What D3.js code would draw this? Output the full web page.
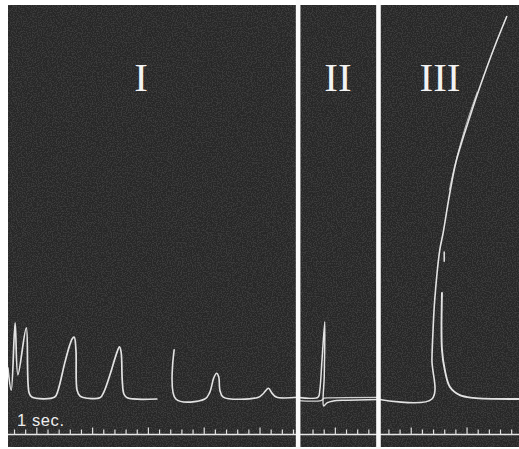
<!DOCTYPE html>
<html>
<head>
<meta charset="utf-8">
<script src="https://cdnjs.cloudflare.com/ajax/libs/d3/7.8.5/d3.min.js"></script>
<style>
  html, body { margin: 0; padding: 0; background: #fff; }
  svg { display: block; }
</style>
</head>
<body>
<div id="chart"></div>
<script>
// record time in seconds, amplitude in arbitrary units (0 = resting baseline)
var panelNames = ["I", "II", "III"];
var cutTimes = [5.09, 6.53];          // where the record was cut between panels
var tickStarts = [0, 5.35, 6.71];     // first time-marker tick in each panel
var tickStep = 0.2;                   // five marks per second

// panel I, first stretch of trace
var traceI_a = [[-0.11, 8.1], [-0.05, 2.3], [0.02, 19.8], [0.07, 6.3], [0.22, 18.5],
  [0.27, 1.6], [0.32, 0.5], [0.73, 0.5], [0.79, 2.3], [0.91, 9.4], [1.00, 14.1],
  [1.05, 15.8], [1.08, 16.1], [1.11, 12.8], [1.13, 2.3], [1.18, 0.8], [1.24, 0.4],
  [1.54, 0.3], [1.61, 1.8], [1.72, 6.3], [1.83, 11.5], [1.89, 13.6], [1.92, 12.2],
  [1.94, 4.9], [1.97, 1.3], [2.03, 0.3], [2.56, 0]];
// panel I, second stretch (after the gap)
var traceI_b = [[2.87, 12.8], [2.90, 0], [3.42, 0], [3.51, 1.8], [3.58, 5.5],
  [3.63, 6.7], [3.67, 5.7], [3.69, 2.3], [3.75, 0.5], [4.37, 0.4], [4.46, 1.3],
  [4.56, 2.8], [4.62, 1.6], [4.70, 0.5], [5.12, 0.5]];
// panel II, two superposed sweeps
var traceII_a = [[5.05, 0.5], [5.45, 0.5], [5.48, 2.3], [5.52, 10.2], [5.57, 20.1],
  [5.56, 6.0], [5.55, -1.8], [5.61, -1.0], [5.72, -0.5], [5.93, -0.3], [6.55, -0.1]];
var traceII_b = [[5.05, -0.4], [5.50, -0.4], [5.56, 0.2], [5.66, 0.3], [6.55, 0.4]];
// panel III, rise and decay
var traceIII_rise = [[6.50, 0], [7.49, 0], [7.49, 10.2], [7.51, 18.0], [7.54, 25.8],
  [7.63, 38.8], [7.69, 43.2], [7.81, 53.6], [7.93, 62.2], [8.17, 73.5], [8.35, 81.3],
  [8.59, 90.9], [8.83, 99.6]];
var traceIII_double = [[7.80, 54.4], [7.90, 60.9], [8.10, 71.4], [8.30, 79.9]];
var traceIII_decay = [[7.67, 27.6], [7.67, 12.8], [7.72, 7.6], [7.81, 3.2],
  [7.99, 1.0], [8.23, 0.3], [9.10, 0]];
var traceIII_dash = [[7.71, 38.3], [7.71, 35.9]];

function draw_record(id) {
    "use strict";
    var W = 519, H = 449;
    var left = 8, top = 5, bottom = 447;
    var timeLineY = 434.5;

    var svg = d3.select(id).append("svg")
        .attr("width", W)
        .attr("height", H);

    var x = d3.scaleLinear().domain([0, 9]).range([14, 14 + 9 * 55.8]);
    var y = d3.scaleLinear().domain([0, 100]).range([399, 15]);

    // film grain: sparse pale specks
    var defs = svg.append("defs");
    var f = defs.append("filter").attr("id", "grain")
        .attr("x", 0).attr("y", 0).attr("width", "100%").attr("height", "100%");
    f.append("feTurbulence").attr("type", "fractalNoise")
        .attr("baseFrequency", 0.8).attr("numOctaves", 2).attr("seed", 7);
    f.append("feColorMatrix").attr("type", "matrix")
        .attr("values", "0 0 0 0 1  0 0 0 0 1  0 0 0 0 1  0 0 0 -4 2.35");

    svg.append("rect")
        .attr("x", left).attr("y", top)
        .attr("width", W - left).attr("height", bottom - top)
        .attr("fill", "#272727");
    svg.append("rect")
        .attr("x", left).attr("y", top)
        .attr("width", W - left).attr("height", bottom - top)
        .attr("fill", "#fff")
        .attr("opacity", 0.09)
        .attr("filter", "url(#grain)");

    // panel extents in time
    var bounds = [x.invert(left)].concat(cutTimes).concat([x.invert(W)]);
    var panels = panelNames.map(function (name, i) {
        return {name: name, t0: bounds[i], t1: bounds[i + 1], tick0: tickStarts[i]};
    });

    panels.forEach(function (p, i) {
        defs.append("clipPath").attr("id", "clip" + i)
            .append("rect")
            .attr("x", x(p.t0)).attr("y", top)
            .attr("width", x(p.t1) - x(p.t0)).attr("height", bottom - top);
    });

    // traces
    var line = d3.line()
        .x(function (d) { return x(d[0]); })
        .y(function (d) { return y(d[1]); })
        .curve(d3.curveCatmullRom.alpha(0.5));

    var traces = [
        {data: traceI_a, panel: 0, w: 1.7, o: 0.95},
        {data: traceI_b, panel: 0, w: 1.6, o: 0.95},
        {data: traceII_a, panel: 1, w: 1.5, o: 0.95},
        {data: traceII_b, panel: 1, w: 1.3, o: 0.85},
        {data: traceIII_rise, panel: 2, w: 1.6, o: 0.95},
        {data: traceIII_double, panel: 2, w: 1.0, o: 0.7},
        {data: traceIII_decay, panel: 2, w: 1.9, o: 0.95},
        {data: traceIII_dash, panel: 2, w: 1.6, o: 0.9}
    ];

    svg.selectAll("path.trace")
        .data(traces)
        .enter()
        .append("path")
        .attr("class", "trace")
        .attr("clip-path", function (d) { return "url(#clip" + d.panel + ")"; })
        .attr("d", function (d) { return line(d.data); })
        .attr("fill", "none")
        .attr("stroke", "#ececec")
        .attr("stroke-opacity", function (d) { return d.o; })
        .attr("stroke-width", function (d) { return d.w; })
        .attr("stroke-linejoin", "round")
        .attr("stroke-linecap", "round");

    // time marker
    svg.append("line")
        .attr("x1", left).attr("x2", W)
        .attr("y1", timeLineY).attr("y2", timeLineY)
        .attr("stroke", "#e6e6e6")
        .attr("stroke-width", 1.6);

    panels.forEach(function (p, i) {
        var vals = d3.range(p.tick0, p.t1 - 0.05, tickStep);
        var axis = d3.axisTop(x)
            .tickValues(vals)
            .tickSize(5)
            .tickSizeOuter(0)
            .tickFormat("");
        var g = svg.append("g")
            .attr("transform", "translate(0," + timeLineY + ")")
            .call(axis);
        g.select(".domain").remove();
        g.selectAll(".tick line")
            .attr("stroke", "#dedede")
            .attr("stroke-width", 1.2)
            .attr("y2", function (d, k) { return k % 5 === 2 ? -7 : -5; });
    });

    // white cuts between panels
    svg.selectAll("rect.cut")
        .data(cutTimes)
        .enter()
        .append("rect")
        .attr("class", "cut")
        .attr("x", function (d) { return x(d) - 2.2; })
        .attr("y", 0)
        .attr("width", 4.6)
        .attr("height", H)
        .attr("fill", "#fafafa");

    // panel labels
    var labelX = [141, 338, 440];
    svg.selectAll("text.label")
        .data(panels)
        .enter()
        .append("text")
        .attr("class", "label")
        .attr("x", function (d, i) { return labelX[i]; })
        .attr("y", 91)
        .attr("text-anchor", "middle")
        .attr("font-family", "'Liberation Serif', 'DejaVu Serif', serif")
        .attr("font-size", 41)
        .attr("fill", "#f2f2f2")
        .text(function (d) { return d.name; });

    svg.append("text")
        .attr("x", 17)
        .attr("y", 426)
        .attr("font-family", "'Liberation Sans', Arial, sans-serif")
        .attr("font-size", 16.5)
        .attr("letter-spacing", 0.6)
        .attr("fill", "#eeeeee")
        .text("1 sec.");
}

draw_record("#chart");
</script>
</body>
</html>
